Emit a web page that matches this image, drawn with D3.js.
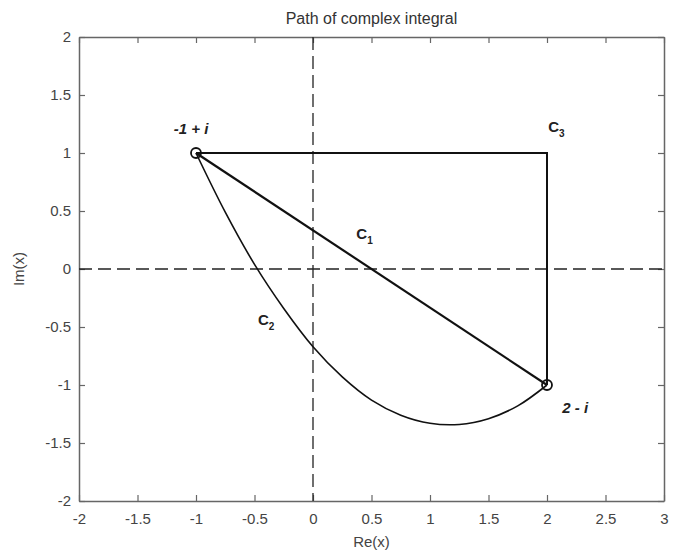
<!DOCTYPE html>
<html>
<head>
<meta charset="utf-8">
<script src="https://cdn.jsdelivr.net/npm/d3@7"></script>
<style>
  body { margin: 0; background: #fff; }
  text { font-family: "Liberation Sans", Arial, sans-serif; }
</style>
</head>
<body>
<svg id="graph"></svg>
<script>
// tick values on both axes
var xTicks = [-2, -1.5, -1, -0.5, 0, 0.5, 1, 1.5, 2, 2.5, 3];
var yTicks = [-2, -1.5, -1, -0.5, 0, 0.5, 1, 1.5, 2];

// end points of the integral
var startPoint = [-1, 1];
var endPoint = [2, -1];

// C1: straight segment, C3: horizontal then vertical
var c1 = [[-1, 1], [2, -1]];
var c3 = [[-1, 1], [2, 1], [2, -1]];

// C2: curved path
var c2x = [-1, -0.75, -0.5, -0.25, 0, 0.25, 0.5, 0.75, 1, 1.25, 1.5, 1.75, 2];
var c2y = [1, 0.49, 0.04, -0.34, -0.67, -0.93, -1.13, -1.26, -1.33, -1.34, -1.29, -1.18, -1];

// annotations (text, sub, x, y in data units)
var labels = [
  { text: "-1 + i", sub: "", x: -1.19, y: 1.16 },
  { text: "C", sub: "3", x: 2.01, y: 1.18 },
  { text: "C", sub: "1", x: 0.37, y: 0.26 },
  { text: "C", sub: "2", x: -0.47, y: -0.48 },
  { text: "2 - i", sub: "", x: 2.13, y: -1.24 }
];

var svg = d3.select("#graph")
    .attr("width", 676)
    .attr("height", 558);

var margin = {top: 37, right: 12, bottom: 57, left: 79},
    width = +svg.attr("width") - margin.left - margin.right,
    height = +svg.attr("height") - margin.top - margin.bottom;

var x = d3.scaleLinear().domain([-2, 3]).range([0, width]),
    y = d3.scaleLinear().domain([-2, 2]).range([height, 0]);

var g = svg.append("g")
    .attr("transform", "translate(" + margin.left + "," + margin.top + ")");

var fmt = function(d) { return String(d); };

// axes with ticks pointing inward on all four sides
g.append("g")
    .attr("transform", "translate(0," + height + ")")
    .call(d3.axisBottom(x).tickValues(xTicks).tickFormat(fmt).tickSizeInner(-6).tickSizeOuter(0).tickPadding(12));
g.append("g")
    .call(d3.axisTop(x).tickValues(xTicks).tickFormat("").tickSizeInner(-6).tickSizeOuter(0));
g.append("g")
    .call(d3.axisLeft(y).tickValues(yTicks).tickFormat(fmt).tickSizeInner(-6).tickSizeOuter(0).tickPadding(8));
g.append("g")
    .attr("transform", "translate(" + width + ",0)")
    .call(d3.axisRight(y).tickValues(yTicks).tickFormat("").tickSizeInner(-6).tickSizeOuter(0));

g.selectAll(".domain").attr("stroke", "#666").attr("stroke-width", 1.5);
g.selectAll(".tick line").attr("stroke", "#666").attr("stroke-width", 1.2);
g.selectAll(".tick text").attr("fill", "#444").style("font-size", "15px");

// dashed coordinate axes
g.append("line")
    .attr("x1", x(0)).attr("x2", x(0))
    .attr("y1", 0).attr("y2", height)
    .attr("stroke", "#222").attr("stroke-width", 1.3)
    .attr("stroke-dasharray", "13,6");
g.append("line")
    .attr("x1", 0).attr("x2", width)
    .attr("y1", y(0)).attr("y2", y(0))
    .attr("stroke", "#222").attr("stroke-width", 1.3)
    .attr("stroke-dasharray", "13,6");

var line = d3.line()
    .x(function(d) { return x(d[0]); })
    .y(function(d) { return y(d[1]); });

g.append("path").datum(c3)
    .attr("d", line)
    .attr("fill", "none").attr("stroke", "#111").attr("stroke-width", 2);

g.append("path").datum(c1)
    .attr("d", line)
    .attr("fill", "none").attr("stroke", "#111").attr("stroke-width", 2.2);

var c2 = c2x.map(function(v, i) { return [v, c2y[i]]; });
g.append("path").datum(c2)
    .attr("d", line.curve(d3.curveCatmullRom))
    .attr("fill", "none").attr("stroke", "#111").attr("stroke-width", 1.6);

// open circles at the end points
g.selectAll(".pt")
  .data([startPoint, endPoint])
  .enter().append("circle")
    .attr("class", "pt")
    .attr("cx", function(d) { return x(d[0]); })
    .attr("cy", function(d) { return y(d[1]); })
    .attr("r", 5)
    .attr("fill", "none").attr("stroke", "#111").attr("stroke-width", 1.8);

// path labels
var lab = g.selectAll(".lab")
  .data(labels)
  .enter().append("text")
    .attr("class", "lab")
    .attr("x", function(d) { return x(d.x); })
    .attr("y", function(d) { return y(d.y); })
    .attr("fill", "#222")
    .style("font-size", "15px")
    .style("font-weight", "bold")
    .style("font-style", function(d) { return d.sub ? "normal" : "italic"; });
lab.append("tspan").text(function(d) { return d.text; });
lab.append("tspan")
    .attr("dy", 5)
    .style("font-size", "10px")
    .text(function(d) { return d.sub; });

// title and axis labels
svg.append("text")
    .attr("x", margin.left + width / 2).attr("y", 24)
    .attr("text-anchor", "middle")
    .attr("fill", "#333").style("font-size", "16px")
    .text("Path of complex integral");
svg.append("text")
    .attr("x", margin.left + width / 2).attr("y", 547)
    .attr("text-anchor", "middle")
    .attr("fill", "#444").style("font-size", "15px")
    .text("Re(x)");
svg.append("text")
    .attr("transform", "translate(24," + (margin.top + height / 2) + ") rotate(-90)")
    .attr("text-anchor", "middle")
    .attr("fill", "#444").style("font-size", "15px")
    .text("Im(x)");
</script>
</body>
</html>
